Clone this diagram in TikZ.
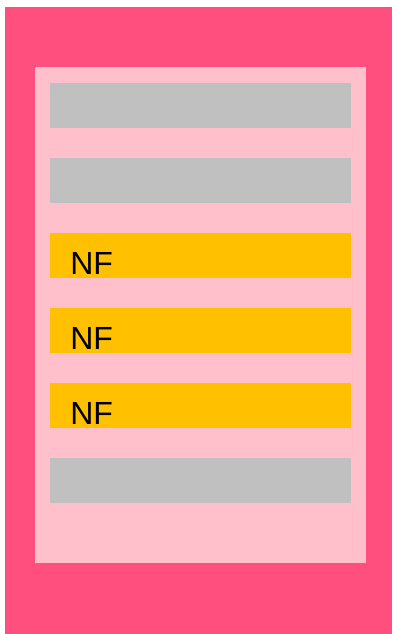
\documentclass[tikz,border=0pt]{standalone}
\usepackage{fontspec}
\setmainfont{Liberation Sans}
\usepackage{tikz}

\begin{document}
\begin{tikzpicture}[x=0.75pt, y=-0.75pt,
  bar/.style={minimum width=301*0.75pt, minimum height=45*0.75pt, inner sep=0pt, draw=none},
  nftext/.style={anchor=base west, inner sep=0pt, font=\fontsize{24}{28}\selectfont}]

% Colori
\definecolor{colOuter}{HTML}{FF4F7F}
\definecolor{colInner}{HTML}{FFC0CB}
\definecolor{colGray}{HTML}{C0C0C0}
\definecolor{colYellow}{HTML}{FFC000}

% Margini
\useasboundingbox[fill=white] (0,0) rectangle (392,634);

% Cornice esterna e pannello interno
\fill[colOuter] (5,7) rectangle (392,634);
\fill[colInner] (35,67) rectangle (366,563);

% Barre
\node[bar, fill=colGray] (row1) at (200.5,105.5) {};
\node[bar, fill=colGray] (row2) at (200.5,180.5) {};
\node[bar, fill=colYellow] (row3) at (200.5,255.5) {};
\node[bar, fill=colYellow] (row4) at (200.5,330.5) {};
\node[bar, fill=colYellow] (row5) at (200.5,405.5) {};
\node[bar, fill=colGray] (row6) at (200.5,480.5) {};

% Etichette
\node[nftext] (nf3) at (70,274.3) {NF};
\node[nftext] (nf4) at (70,349.3) {NF};
\node[nftext] (nf5) at (70,424.3) {NF};
\end{tikzpicture}
\end{document}
